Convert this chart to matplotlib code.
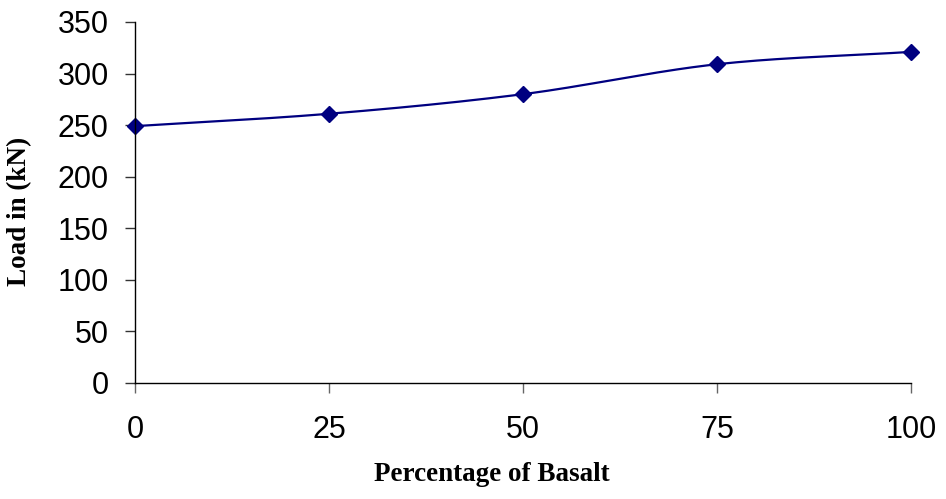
import numpy as np
import matplotlib.pyplot as plt

basalt_pct = [0, 25, 50, 75, 100]
load_kn = [249, 261, 280, 309, 321]
y_ticks = [0, 50, 100, 150, 200, 250, 300, 350]


def smooth_curve(xs, ys, n=40):
    # catmull-rom through the points, like a spreadsheet "smoothed line"
    xs = np.asarray(xs, float)
    ys = np.asarray(ys, float)
    px = np.concatenate([[2 * xs[0] - xs[1]], xs, [2 * xs[-1] - xs[-2]]])
    py = np.concatenate([[2 * ys[0] - ys[1]], ys, [2 * ys[-1] - ys[-2]]])
    out_x, out_y = [], []
    t = np.linspace(0, 1, n)
    for i in range(1, len(px) - 2):
        for arr, out in ((px, out_x), (py, out_y)):
            p0, p1, p2, p3 = arr[i - 1], arr[i], arr[i + 1], arr[i + 2]
            seg = 0.5 * ((2 * p1) + (-p0 + p2) * t
                         + (2 * p0 - 5 * p1 + 4 * p2 - p3) * t ** 2
                         + (-p0 + 3 * p1 - 3 * p2 + p3) * t ** 3)
            out.extend(seg)
    return np.array(out_x), np.array(out_y)


fig = plt.figure(figsize=(9.46, 4.99), dpi=100)
ax = fig.add_axes([0.1427, 0.2325, 0.8203, 0.7235])

cx, cy = smooth_curve(basalt_pct, load_kn)
ax.plot(cx, cy, color='#000080', lw=1.6, clip_on=False)
ax.plot(basalt_pct, load_kn, ls='none', marker='D', ms=8, color='#000080', clip_on=False)

ax.set_xlim(0, 100)
ax.set_ylim(0, 350)
ax.set_xticks(basalt_pct)
ax.set_yticks(y_ticks)
ax.spines['top'].set_visible(False)
ax.spines['right'].set_visible(False)
for s in ('left', 'bottom'):
    ax.spines[s].set_linewidth(1.0)
ax.tick_params(axis='y', direction='out', length=7, width=1, pad=12,
               labelsize=22, color='#333333')
ax.tick_params(axis='x', direction='out', length=7, width=1, pad=16,
               labelsize=22, color='#666666')
for lab in ax.get_xticklabels() + ax.get_yticklabels():
    lab.set_fontfamily('Liberation Sans')

ax.set_xlabel('Percentage of Basalt', fontfamily='Liberation Serif',
              fontweight='bold', fontsize=19.5)
ax.set_ylabel('Load in (kN)', fontfamily='Liberation Serif',
              fontweight='bold', fontsize=19.5)
ax.xaxis.set_label_coords(0.46, -0.22)
ax.yaxis.set_label_coords(-0.133, 0.476)

fig.savefig('out.png', dpi=100)
